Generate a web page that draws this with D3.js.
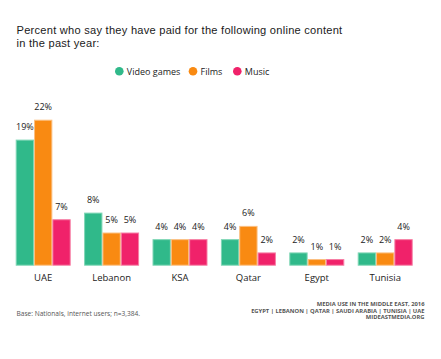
<!DOCTYPE html>
<html><head><meta charset="utf-8">
<script src="https://cdn.jsdelivr.net/npm/d3@7/dist/d3.min.js"></script>
<style>html,body{margin:0;padding:0;background:#fff;}svg{display:block;}</style>
</head><body>
<svg id="c" width="441" height="359"></svg>
<script>
const categories = ["UAE","Lebanon","KSA","Qatar","Egypt","Tunisia"];
const seriesNames = ["Video games","Films","Music"];
const videoGames = [19,8,4,4,2,2];
const films = [22,5,4,6,1,2];
const music = [7,5,4,2,1,4];
const seriesValues = [videoGames, films, music];
const colors = ["#30b98a","#f98a12","#f0226a"];
const strokes = ["#7fd6b5","#fbbf80","#f67ea4"];

const svg = d3.select("#c");
const font = "'Open Sans', sans-serif";
const baseY = 265.7;

const x0 = d3.scaleBand().domain(categories).range([15.7, 412.7]).paddingInner(0.196).paddingOuter(0);
const x1 = d3.scaleBand().domain(seriesNames).range([0, x0.bandwidth()]).padding(0);
const y = d3.scaleLinear().domain([0, 22]).range([baseY, baseY - 146]);

// title
const titleLines = ["Percent who say they have paid for the following online content", "in the past year:"];
titleLines.forEach((t, i) => {
  svg.append("text").attr("x", 16.5).attr("y", 34 + i * 12.8)
    .attr("font-family", "'Liberation Sans', Arial, sans-serif").attr("font-size", 11.1)
    .attr("letter-spacing", 0.25)
    .attr("fill", "#1a1a1a").text(t);
});

// legend
const legendX = [119.3, 193, 237.3];
seriesNames.forEach((s, i) => {
  svg.append("circle").attr("cx", legendX[i]).attr("cy", 71.3).attr("r", 4.3).attr("fill", colors[i]);
  svg.append("text").attr("x", legendX[i] + 7.5).attr("y", 74.6).attr("font-family", font).attr("font-size", 9).attr("fill", "#222").text(s);
});

// bars
const g = svg.append("g");
categories.forEach((c, ci) => {
  seriesNames.forEach((s, si) => {
    const v = seriesValues[si][ci];
    const bx = x0(c) + x1(s);
    g.append("rect")
      .attr("x", bx + 0.5).attr("y", y(v) + 0.5)
      .attr("width", x1.bandwidth() - 1).attr("height", baseY - y(v) - 1)
      .attr("fill", colors[si]).attr("stroke", strokes[si]).attr("stroke-width", 1);
    g.append("text")
      .attr("x", bx + x1.bandwidth() / 2).attr("y", y(v) - 9.5)
      .attr("text-anchor", "middle").attr("font-family", font).attr("font-size", 9)
      .attr("fill", "#222").text(v + "%");
  });
});

// x axis labels
const xAxis = d3.axisBottom(x0).tickSize(0).tickPadding(0);
const ax = svg.append("g").attr("transform", `translate(0,${baseY + 9})`).call(xAxis);
ax.select(".domain").remove();
ax.selectAll("text").attr("font-family", font).attr("font-size", 9.5).attr("fill", "#222");

// footer
svg.append("text").attr("x", 16.5).attr("y", 315.5).attr("font-family", font).attr("font-size", 6.6).attr("fill", "#555").text("Base: Nationals, internet users; n=3,384.");
const foot = ["MEDIA USE IN THE MIDDLE EAST, 2016","EGYPT | LEBANON | QATAR | SAUDI ARABIA | TUNISIA | UAE","MIDEASTMEDIA.ORG"];
foot.forEach((t, i) => {
  svg.append("text").attr("x", 424.5).attr("y", 305.8 + i * 6.8).attr("text-anchor", "end")
    .attr("font-family", font).attr("font-size", 5.8).attr("font-weight", 700).attr("fill", "#555").text(t);
});
</script>
</body></html>
